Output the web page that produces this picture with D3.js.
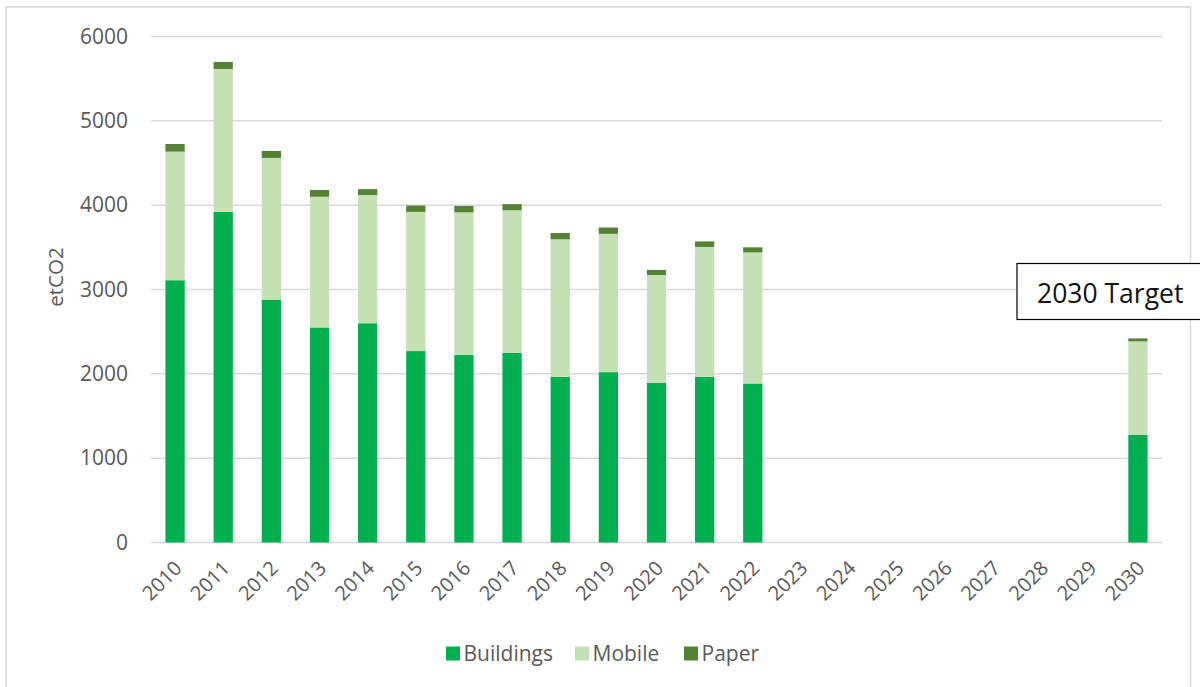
<!DOCTYPE html>
<html>
<head>
<meta charset="utf-8">
<script src="https://cdn.jsdelivr.net/npm/d3@7.9.0/dist/d3.min.js"></script>
<style>
  html, body { margin: 0; padding: 0; background: #fff; }
  svg { display: block; font-family: 'Open Sans', 'Noto Sans', sans-serif; }
</style>
</head>
<body>
<svg id="chart" width="1200" height="687"></svg>
<script>
const years = ['2010', '2011', '2012', '2013', '2014', '2015', '2016', '2017', '2018', '2019', '2020',
  '2021', '2022', '2023', '2024', '2025', '2026', '2027', '2028', '2029', '2030'];
const buildings = [3110, 3920, 2880, 2550, 2600, 2270, 2225, 2250, 1965, 2020, 1895, 1965, 1885, 0, 0, 0, 0, 0, 0, 0, 1275];
const mobile = [1525, 1695, 1680, 1550, 1520, 1650, 1690, 1690, 1630, 1640, 1277, 1540, 1555, 0, 0, 0, 0, 0, 0, 0, 1110];
const paper = [90, 83, 83, 80, 70, 75, 75, 72, 75, 75, 60, 65, 60, 0, 0, 0, 0, 0, 0, 0, 35];
const seriesNames = ['Buildings', 'Mobile', 'Paper'];
const yTicks = [0, 1000, 2000, 3000, 4000, 5000, 6000];
const targetLabel = '2030 Target';

const colors = { Buildings: '#00b050', Mobile: '#c5e0b4', Paper: '#548235' };

function draw() {
  const svg = d3.select('#chart');
  svg.selectAll('*').remove();

  const left = 151, right = 1162, top = 36.5, bottom = 542.5;

  // outer chart border
  svg.append('rect')
    .attr('x', 6).attr('y', 7).attr('width', 1184.5).attr('height', 690)
    .attr('fill', 'none').attr('stroke', '#d9d9d9').attr('stroke-width', 1.5);

  const rows = years.map((y, i) => ({
    year: y, Buildings: buildings[i], Mobile: mobile[i], Paper: paper[i]
  }));

  const x = d3.scaleBand().domain(years).range([left, right]).paddingInner(0.6).paddingOuter(0.3);
  const y = d3.scaleLinear().domain([0, 6000]).range([bottom, top]);

  // gridlines
  svg.append('g')
    .selectAll('line')
    .data(yTicks)
    .join('line')
    .attr('x1', left).attr('x2', right)
    .attr('y1', d => y(d)).attr('y2', d => y(d))
    .attr('stroke', '#d9d9d9').attr('stroke-width', 1.5);

  // y axis labels
  const yAxis = svg.append('g')
    .attr('transform', `translate(${left - 23},0)`)
    .call(d3.axisLeft(y).tickValues(yTicks).tickSize(0).tickPadding(0).tickFormat(d3.format('d')));
  yAxis.select('.domain').remove();
  yAxis.selectAll('text')
    .attr('fill', '#595959').attr('font-size', 21).attr('font-family', "'Open Sans', sans-serif");

  svg.append('text')
    .attr('transform', `translate(63,277) rotate(-90)`)
    .attr('text-anchor', 'middle')
    .attr('fill', '#595959').attr('font-size', 20.5)
    .text('etCO2');

  // stacked bars
  const stacked = d3.stack().keys(seriesNames)(rows);
  svg.append('g')
    .selectAll('g')
    .data(stacked)
    .join('g')
    .attr('fill', d => colors[d.key])
    .selectAll('rect')
    .data(d => d)
    .join('rect')
    .attr('x', d => x(d.data.year))
    .attr('width', x.bandwidth())
    .attr('y', d => y(d[1]))
    .attr('height', d => Math.max(0, y(d[0]) - y(d[1])));

  // x axis labels
  const xAxis = svg.append('g')
    .attr('transform', `translate(0,${bottom})`)
    .call(d3.axisBottom(x).tickSize(0).tickPadding(0));
  xAxis.select('.domain').remove();
  xAxis.selectAll('text')
    .attr('fill', '#595959').attr('font-size', 20).attr('font-family', "'Open Sans', sans-serif")
    .attr('text-anchor', 'end')
    .attr('dy', 0)
    .attr('transform', 'translate(8,27) rotate(-45)');

  // 2030 target callout
  const tg = svg.append('g');
  tg.append('rect')
    .attr('x', 1017).attr('y', 263.5).attr('width', 200).attr('height', 56)
    .attr('fill', '#fff').attr('stroke', '#000').attr('stroke-width', 1.2);
  tg.append('text')
    .attr('x', 1037).attr('y', 302.5)
    .attr('fill', '#111').attr('font-size', 26.5)
    .text(targetLabel);

  // legend
  const legendX = [446, 575, 684];
  const legend = svg.append('g');
  seriesNames.forEach((name, i) => {
    legend.append('rect')
      .attr('x', legendX[i]).attr('y', 646.5).attr('width', 14).attr('height', 14)
      .attr('fill', colors[name]);
    legend.append('text')
      .attr('x', legendX[i] + 17.5).attr('y', 660.5)
      .attr('fill', '#595959').attr('font-size', 21)
      .text(name);
  });
}

if (document.readyState === 'loading') {
  document.addEventListener('DOMContentLoaded', draw);
} else {
  draw();
}
</script>
</body>
</html>
